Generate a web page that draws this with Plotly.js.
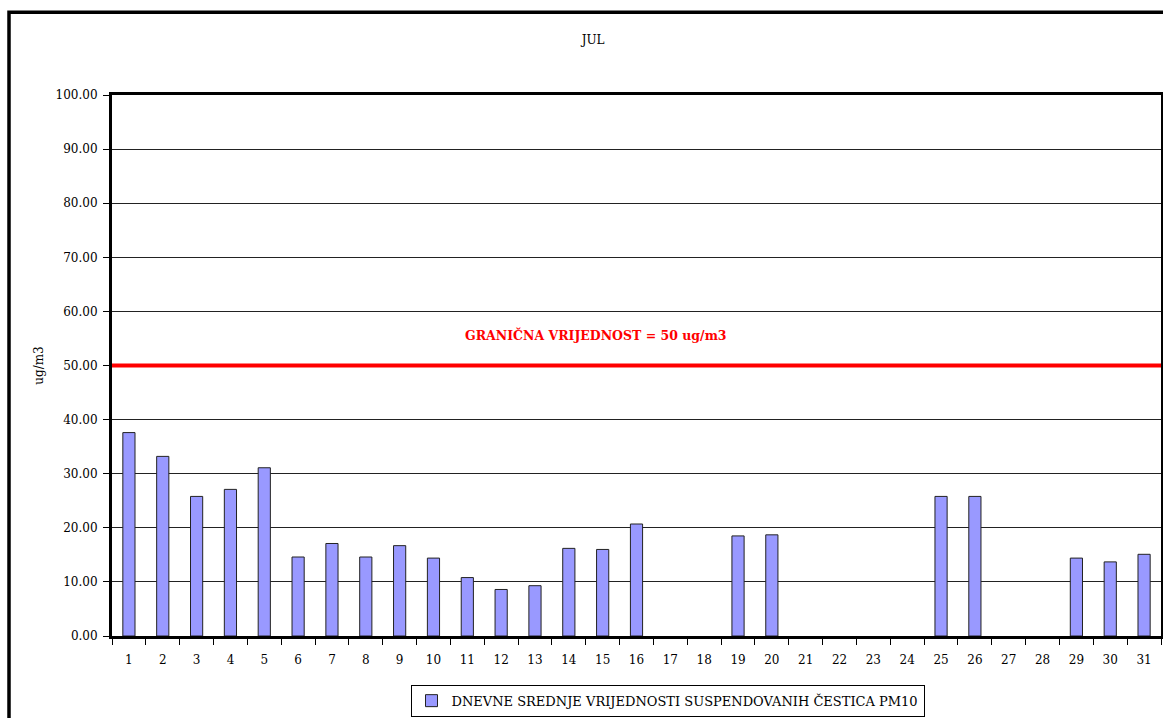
<!DOCTYPE html>
<html>
<head>
<meta charset="utf-8">
<script src="https://cdn.plot.ly/plotly-3.0.1.min.js"></script>
<style>html,body{margin:0;padding:0;background:#fff;}#chart{width:1163px;height:718px;}</style>
</head>
<body>
<div id="chart"></div>
<script>
const days = ["1","2","3","4","5","6","7","8","9","10","11","12","13","14","15","16","17","18","19","20","21","22","23","24","25","26","27","28","29","30","31"];
const pm10 = [37.6,33.2,25.8,27.1,31.1,14.6,17.1,14.6,16.7,14.4,10.8,8.6,9.3,16.2,16.0,20.7,null,null,18.5,18.7,null,null,null,null,25.8,25.8,null,null,14.4,13.7,15.1];
const yTicks = [0,10,20,30,40,50,60,70,80,90,100];
const limitValue = 50;
const seriesName = "DNEVNE SREDNJE VRIJEDNOSTI SUSPENDOVANIH ČESTICA PM10";
const limitLabel = "GRANIČNA VRIJEDNOST = 50 ug/m3";
const chartTitle = "JUL";
const yTitle = "ug/m3";

const serif = "'DejaVu Serif', 'Liberation Serif', serif";

const trace = {
  type: "bar",
  x: days,
  y: pm10,
  name: seriesName,
  marker: {color: "#9999FF", line: {color: "#222", width: 1}},
  showlegend: true
};

const layout = {
  width: 1163, height: 718,
  margin: {l: 112, r: 2, t: 95, b: 81},
  paper_bgcolor: "#fff", plot_bgcolor: "#fff",
  bargap: 0.64,
  title: {text: chartTitle, font: {family: serif, size: 12, color: "#000"}, x: 0.51, xanchor: "center", y: 1 - 40/718, yanchor: "middle"},
  xaxis: {
    type: "category", range: [-0.5, 30.5], tickson: "boundaries",
    ticks: "outside", ticklen: 6, tickcolor: "#000", tickwidth: 1,
    showline: true, linecolor: "#000", linewidth: 3, mirror: true,
    showgrid: false, zeroline: false, ticklabelstandoff: 11,
    tickfont: {family: serif, size: 12, color: "#000"}, fixedrange: true
  },
  yaxis: {
    range: [0, 100], tickvals: yTicks, tickformat: ".2f",
    ticks: "outside", ticklen: 6, tickcolor: "#000", tickwidth: 1,
    showline: true, linecolor: "#000", linewidth: 3, mirror: true,
    showgrid: true, gridcolor: "#222", gridwidth: 1, zeroline: false,
    ticklabelstandoff: 3,
    tickfont: {family: serif, size: 12, color: "#000"},
    title: {text: yTitle, font: {family: serif, size: 12, color: "#000"}, standoff: 10}
  },
  legend: {
    orientation: "h", x: (667.5-112)/1049, xanchor: "center", y: -0.088, yanchor: "top",
    bordercolor: "#000", borderwidth: 1, bgcolor: "#fff",
    font: {family: serif, size: 13, color: "#000"}
  },
  shapes: [
    {type: "line", xref: "paper", yref: "y", x0: 0, x1: 1, y0: limitValue, y1: limitValue, line: {color: "#FF0000", width: 4}},
    {type: "rect", xref: "paper", yref: "paper", x0: (9-112)/1049, x1: 1.05, y0: -0.2, y1: (637-12)/542, line: {color: "#000", width: 3.5}, fillcolor: "rgba(0,0,0,0)"}
  ],
  annotations: [
    {xref: "paper", yref: "y", x: (596-112)/1049, y: limitValue + 5.6, text: "<b>" + limitLabel + "</b>", showarrow: false, font: {family: serif, size: 12.5, color: "#FF0000"}, xanchor: "center", yanchor: "middle"}
  ]
};

Plotly.newPlot("chart", [trace], layout, {displayModeBar: false, staticPlot: true});
</script>
</body>
</html>
